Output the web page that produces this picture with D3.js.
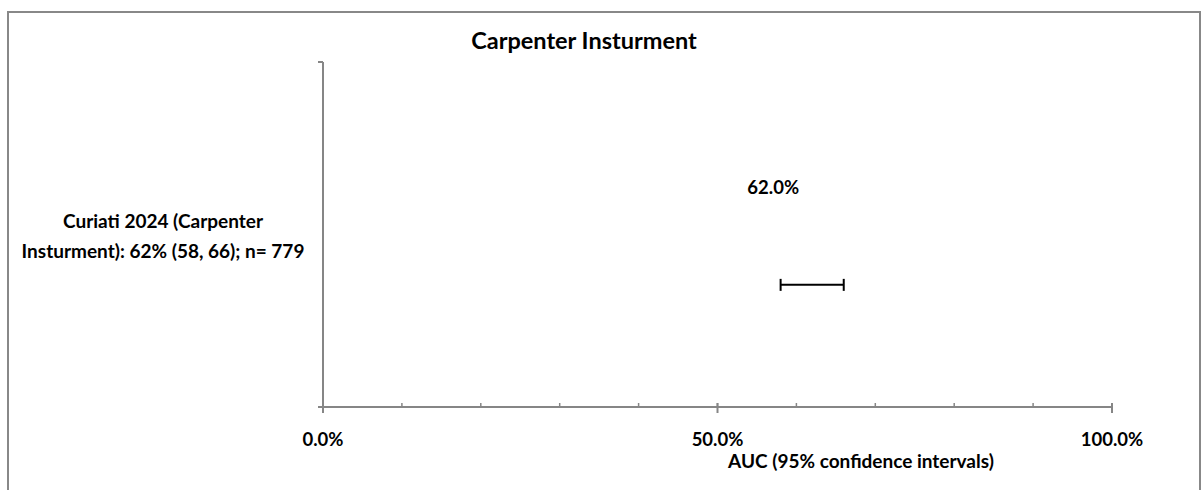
<!DOCTYPE html>
<html>
<head>
<meta charset="utf-8">
<script src="https://cdn.jsdelivr.net/npm/d3@7"></script>
<style>
  html, body { margin: 0; padding: 0; background: #fff; }
  svg text { font-family: Lato, "Open Sans", sans-serif; font-weight: bold; fill: #000; }
</style>
</head>
<body>
<svg id="chart" width="1203" height="490"></svg>
<script>
// Study data (AUC with 95% CI)
const studies = ["Curiati 2024 (Carpenter Insturment): 62% (58, 66); n= 779"];
const studyLabelLines = [["Curiati 2024 (Carpenter", "Insturment): 62% (58, 66); n= 779"]];
const auc = [0.62];
const ciLow = [0.58];
const ciHigh = [0.66];
const rowPos = [0.354];
const xTickValues = [0, 0.5, 1];
const xTickLabels = ["0.0%", "50.0%", "100.0%"];
const minorTickValues = d3.range(0, 1.0001, 0.1);

const svg = d3.select("#chart");

// Outer frame
svg.append("rect")
  .attr("x", 8).attr("y", 12).attr("width", 1192).attr("height", 500)
  .attr("fill", "none").attr("stroke", "#888").attr("stroke-width", 2);

const x = d3.scaleLinear().domain([0, 1]).range([323, 1112]);
const y = d3.scaleLinear().domain([0, 1]).range([407, 62]);

const axisColor = "#868686";

// Vertical axis with a small tick at the top
svg.append("line")
  .attr("x1", x(0)).attr("x2", x(0)).attr("y1", y(1)).attr("y2", y(0))
  .attr("stroke", axisColor).attr("stroke-width", 2);
svg.append("line")
  .attr("x1", x(0) - 5).attr("x2", x(0)).attr("y1", y(1)).attr("y2", y(1))
  .attr("stroke", axisColor).attr("stroke-width", 2);

// Horizontal axis
svg.append("line")
  .attr("x1", x(0) - 5).attr("x2", x(1)).attr("y1", y(0)).attr("y2", y(0))
  .attr("stroke", axisColor).attr("stroke-width", 2);

svg.selectAll(".minor").data(minorTickValues).enter().append("line")
  .attr("x1", d => x(d)).attr("x2", d => x(d))
  .attr("y1", y(0) - 4).attr("y2", y(0))
  .attr("stroke", axisColor).attr("stroke-width", 1.5);

svg.selectAll(".major").data(xTickValues).enter().append("line")
  .attr("x1", d => x(d)).attr("x2", d => x(d))
  .attr("y1", y(0) - 4).attr("y2", y(0) + 6)
  .attr("stroke", axisColor).attr("stroke-width", 2);

svg.selectAll(".xlab").data(xTickValues).enter().append("text")
  .attr("x", d => x(d)).attr("y", 446)
  .attr("text-anchor", "middle").attr("font-size", 18.5)
  .text((d, i) => xTickLabels[i]);

// Axis title
svg.append("text")
  .attr("x", 861).attr("y", 468)
  .attr("text-anchor", "middle").attr("font-size", 19)
  .text("AUC (95% confidence intervals)");

// Chart title
svg.append("text")
  .attr("x", 584).attr("y", 49)
  .attr("text-anchor", "middle").attr("font-size", 23.5)
  .text("Carpenter Insturment");

// Study labels
studyLabelLines.forEach((lines, i) => {
  const t = svg.append("text")
    .attr("text-anchor", "middle").attr("font-size", 19);
  lines.forEach((ln, j) => {
    t.append("tspan").attr("x", 163).attr("y", 228 + j * 30).text(ln);
  });
});

// Confidence interval bars
const cap = 6;
auc.forEach((v, i) => {
  const yy = y(rowPos[i]);
  svg.append("line")
    .attr("x1", x(ciLow[i])).attr("x2", x(ciHigh[i]))
    .attr("y1", yy).attr("y2", yy)
    .attr("stroke", "#000").attr("stroke-width", 2);
  [ciLow[i], ciHigh[i]].forEach(c => {
    svg.append("line")
      .attr("x1", x(c)).attr("x2", x(c))
      .attr("y1", yy - cap).attr("y2", yy + cap)
      .attr("stroke", "#000").attr("stroke-width", 2);
  });
  svg.append("text")
    .attr("x", x(v) - 39).attr("y", yy - 91)
    .attr("text-anchor", "middle").attr("font-size", 18.5)
    .text(d3.format(".1%")(v));
});
</script>
</body>
</html>
